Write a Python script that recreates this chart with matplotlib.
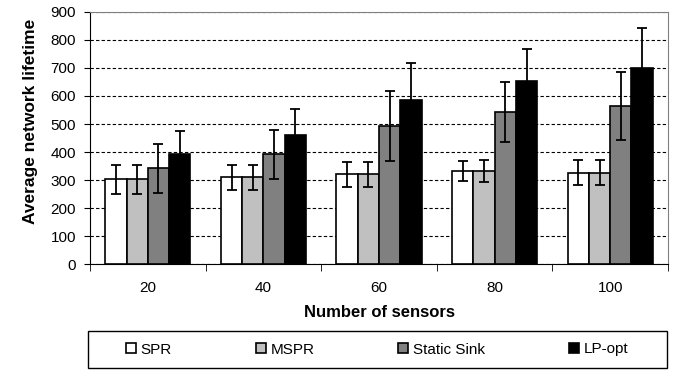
import numpy as np
import matplotlib
matplotlib.use("Agg")
import matplotlib.pyplot as plt
from matplotlib.patches import Rectangle

plt.rcParams['font.family'] = ['Liberation Sans', 'DejaVu Sans']

# data
sensors = ['20', '40', '60', '80', '100']
series = ['SPR', 'MSPR', 'Static Sink', 'LP-opt']
values = {
    'SPR':         [303, 310, 320, 332, 326],
    'MSPR':        [303, 310, 320, 332, 326],
    'Static Sink': [342, 392, 494, 544, 564],
    'LP-opt':      [392, 462, 587, 654, 701],
}
errors = {
    'SPR':         [52, 45, 45, 37, 45],
    'MSPR':        [52, 45, 45, 40, 45],
    'Static Sink': [88, 88, 125, 107, 120],
    'LP-opt':      [82, 93, 130, 115, 140],
}
colors = ['white', '#c0c0c0', '#808080', 'black']

fig = plt.figure(figsize=(6.85, 3.72), dpi=100)
ax = fig.add_axes([0.1314, 0.290, 0.8438, 0.678])

x = np.arange(len(sensors))
w = 0.184
for i, s in enumerate(series):
    pos = x + (i - 1.5) * w
    ax.bar(pos, values[s], width=w, color=colors[i], edgecolor='black',
           linewidth=1.2, label=s, zorder=3)
    ax.errorbar(pos, values[s], yerr=errors[s], fmt='none', ecolor='black',
                elinewidth=1.3, capsize=3.5, capthick=1.3, zorder=4)

ax.set_xlim(-0.5, len(sensors) - 0.5)
ax.set_ylim(0, 900)
ax.set_yticks(range(0, 901, 100))
ax.yaxis.grid(True, linestyle=(0, (3, 2)), color='black', linewidth=0.8, zorder=0)
ax.set_xticks(x)
ax.set_xticklabels(sensors)
ax.set_xticks(np.arange(-0.5, len(sensors)), minor=True)
ax.tick_params(axis='x', which='major', length=0, pad=12, labelsize=11)
ax.tick_params(axis='x', which='minor', length=5, direction='out')
ax.tick_params(axis='y', length=4, direction='out', labelsize=11, pad=6)

for side in ['top', 'right']:
    ax.spines[side].set_color('#808080')

ax.set_xlabel('Number of sensors', fontsize=12, fontweight='bold', labelpad=7)
ax.set_ylabel('Average network lifetime', fontsize=12.5, fontweight='bold')
ax.yaxis.set_label_coords(-0.09, 0.567)

# legend box drawn separately, entries placed inside it
fig.patches.append(Rectangle((88 / 685, 4 / 372), 579 / 685, 37 / 372,
                             transform=fig.transFigure, fill=False,
                             edgecolor='black', linewidth=1.0))
ax.legend(ncol=4, loc='center left', bbox_to_anchor=(126 / 685, 22.5 / 372),
          bbox_transform=fig.transFigure, frameon=False, fontsize=11,
          handlelength=0.65, handleheight=0.65, handletextpad=0.3,
          columnspacing=5.5, borderpad=0, borderaxespad=0)

fig.savefig('out.png', dpi=100)
